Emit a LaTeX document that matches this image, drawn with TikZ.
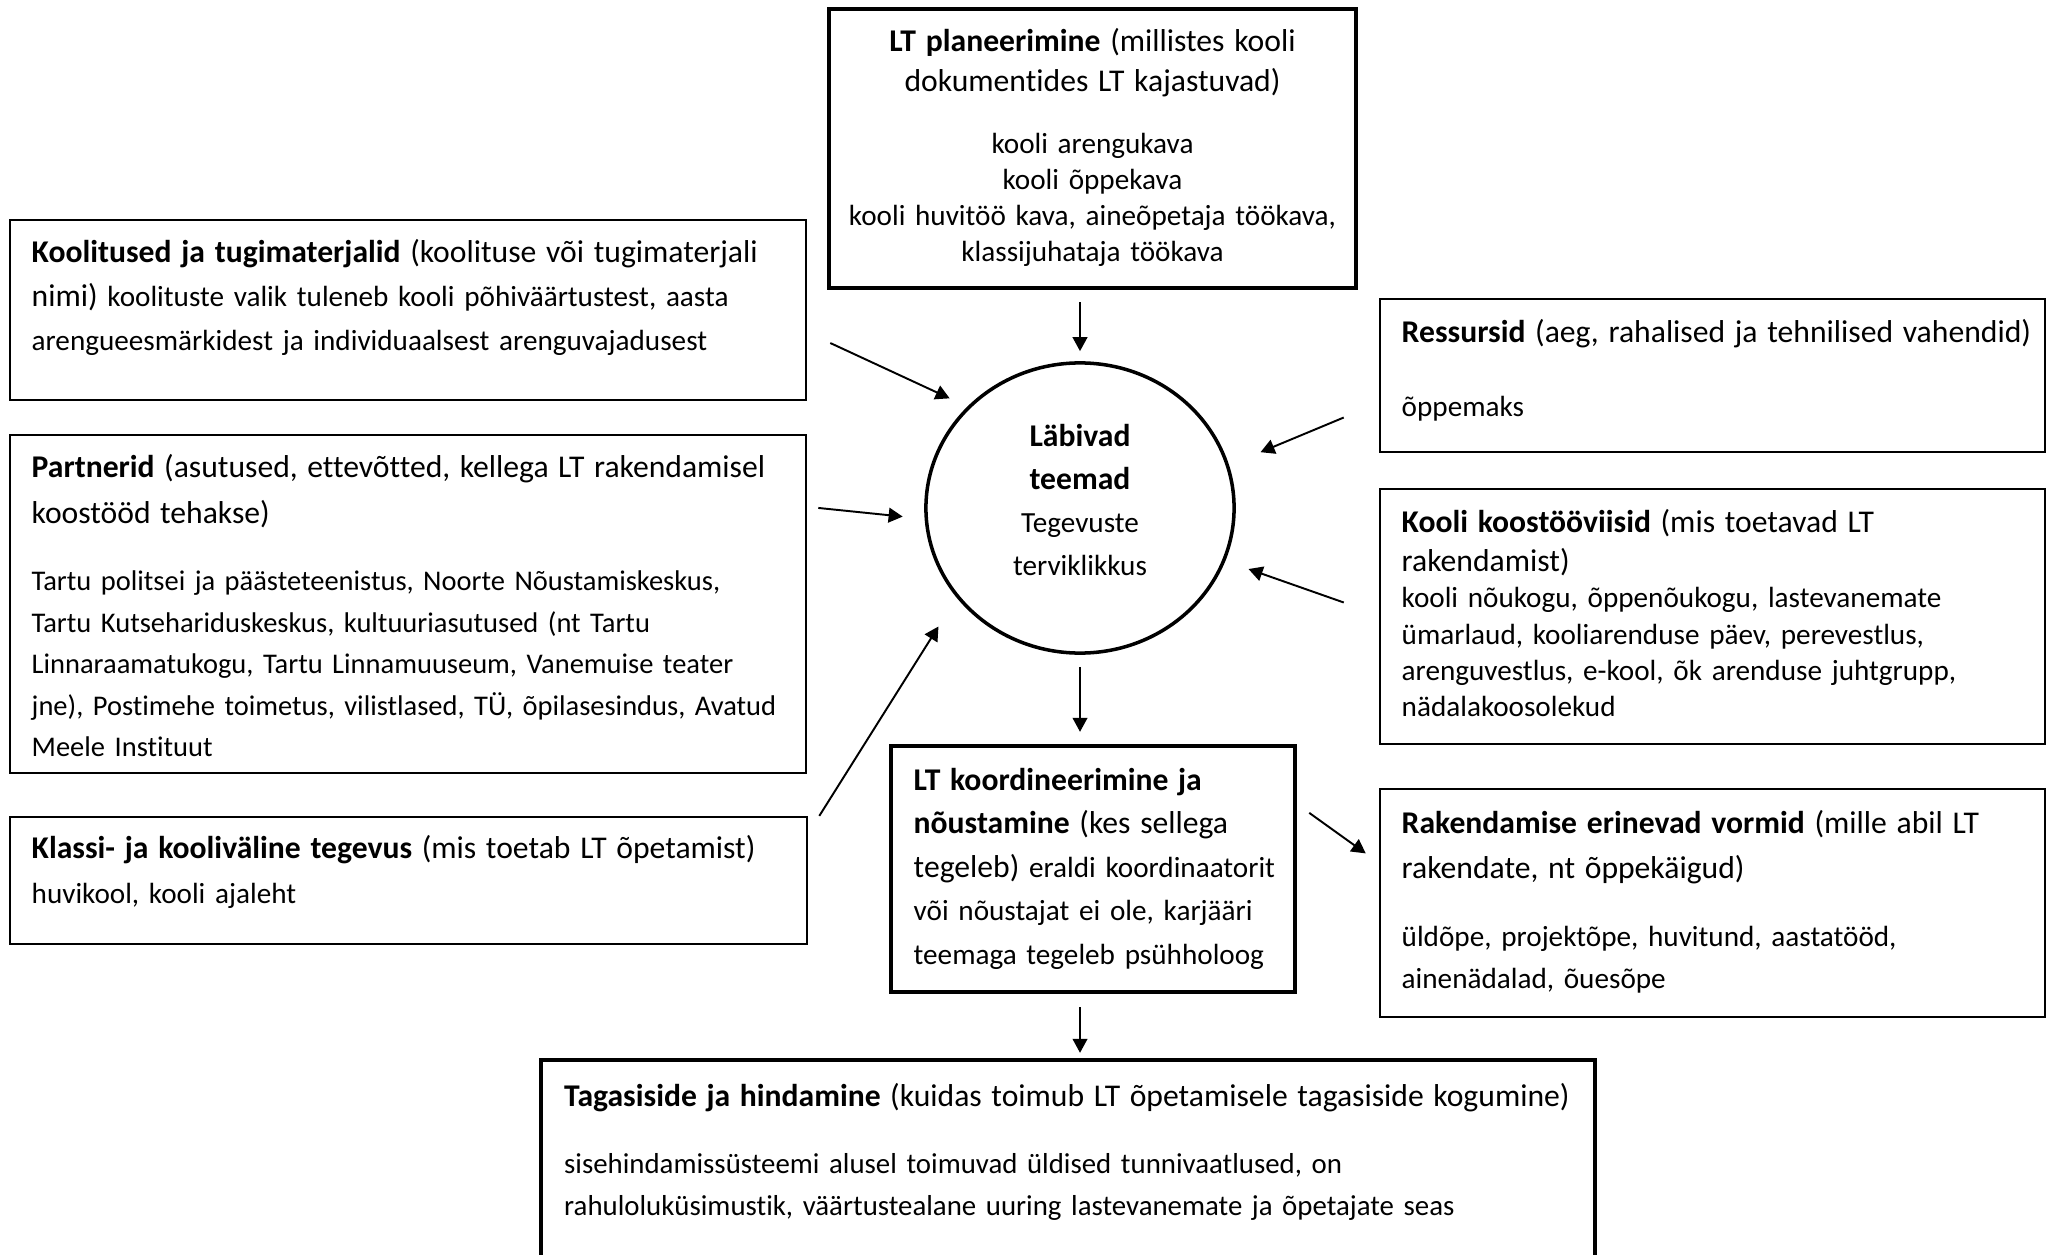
\documentclass[tikz,border=0pt]{standalone}
\usepackage{fontspec}
\setmainfont{Carlito}[Ligatures=NoCommon]
\usetikzlibrary{positioning,shapes.geometric,arrows.meta}
\tikzset{box/.style={draw, line width=0.6pt, inner sep=0pt},
  thickbox/.style={draw, line width=1.2pt, inner sep=0pt},
  arr/.style={-{Triangle[length=4pt,width=4.2pt]}, line width=0.55pt},
  txt/.style={anchor=base west, inner sep=0pt, align=left, text width=#1}}
\newcommand{\hd}[1]{{\fontsize{9pt}{12pt}\selectfont #1}}
\newcommand{\bodysz}[2][8.3pt]{\fontsize{#1}{#2}\selectfont}

\begin{document}
\begin{tikzpicture}[x=0.01cm, y=-0.01cm]
    \useasboundingbox (0,0) rectangle (2055,1255);

    % kastid
    \node[thickbox, minimum width=5.27cm, minimum height=2.79cm] (plan) at (1092.5,148.5) {};
    \node[box, minimum width=7.96cm, minimum height=1.80cm]      (koolitus) at (408,310) {};
    \node[box, minimum width=7.96cm, minimum height=3.38cm]      (partner) at (408,604) {};
    \node[box, minimum width=7.97cm, minimum height=1.27cm]      (klassi) at (408.5,880.5) {};
    \node[box, minimum width=6.65cm, minimum height=1.53cm]      (ressurss) at (1712.5,375.5) {};
    \node[box, minimum width=6.65cm, minimum height=2.55cm]      (koostoo) at (1712.5,616.5) {};
    \node[box, minimum width=6.65cm, minimum height=2.28cm]      (vormid) at (1712.5,903) {};
    \node[thickbox, minimum width=4.04cm, minimum height=2.46cm] (koord) at (1093,869) {};
    \node[thickbox, minimum width=10.54cm, minimum height=2.40cm] (tagasi) at (1068,1180) {};
    \node[ellipse, draw, line width=1pt, minimum width=3.08cm, minimum height=2.90cm, inner sep=0pt,
          align=center, font=\bodysz{12.3pt}] (teemad) at (1080,508)
          {\hd{\textbf{Läbivad}}\\\hd{\textbf{teemad}}\\Tegevuste\\terviklikkus\rule[-0.16cm]{0pt}{0pt}};

    % tekstid
    \node[txt=6cm, anchor=base, align=center, font=\bodysz{10.2pt}] (planT) at (1092.5,52)
          {\hd{\textbf{LT planeerimine} (millistes kooli}\\[0.9pt]\hd{dokumentides LT kajastuvad)}\\[7.6pt]kooli arengukava\\kooli õppekava\\kooli huvitöö kava, aineõpetaja töökava,\\klassijuhataja töökava};
    \node[txt=9cm, font=\bodysz{12.5pt}] (koolitusT) at (31,263)
          {\hd{\textbf{Koolitused ja tugimaterjalid} (koolituse või tugimaterjali}\\\hd{nimi)} koolituste valik tuleneb kooli põhiväärtustest, aasta\\arengueesmärkidest ja individuaalsest arenguvajadusest};
    \node[txt=9cm, font={\bodysz[8.1pt]{11.8pt}}] (partnerT) at (31,478)
          {\hd{\textbf{Partnerid} (asutused, ettevõtted, kellega LT rakendamisel}\\[1pt]\hd{koostööd tehakse)}\\[7.5pt]Tartu politsei ja päästeteenistus, Noorte Nõustamiskeskus,\\Tartu Kutsehariduskeskus, kultuuriasutused (nt Tartu\\Linnaraamatukogu, Tartu Linnamuuseum, Vanemuise teater\\jne), Postimehe toimetus, vilistlased, TÜ, õpilasesindus, Avatud\\Meele Instituut};
    \node[txt=9cm, font=\bodysz{12.8pt}] (klassiT) at (31,858)
          {\hd{\textbf{Klassi- ja kooliväline tegevus} (mis toetab LT õpetamist)}\\huvikool, kooli ajaleht};
    \node[txt=7.5cm, font=\bodysz{11.9pt}] (ressursT) at (1401,343)
          {\hd{\textbf{Ressursid} (aeg, rahalised ja tehnilised vahendid)}\\[9pt]õppemaks};
    \node[txt=7.5cm, font=\bodysz{10.3pt}] (koostooT) at (1401,532)
          {\hd{\textbf{Kooli koostööviisid} (mis toetavad LT}\\[0.8pt]\hd{rakendamist)}\\[0.2pt]kooli nõukogu, õppenõukogu, lastevanemate\\ümarlaud, kooliarenduse päev, perevestlus,\\arenguvestlus, e-kool, õk arenduse juhtgrupp,\\nädalakoosolekud};
    \node[txt=7.5cm, font=\bodysz{11.9pt}] (vormidT) at (1401,833)
          {\hd{\textbf{Rakendamise erinevad vormid} (mille abil LT}\\[0.9pt]\hd{rakendate, nt õppekäigud)}\\[7.7pt]üldõpe, projektõpe, huvitund, aastatööd,\\ainenädalad, õuesõpe};
    \node[txt=4.5cm, font=\bodysz{12.4pt}] (koordT) at (913,790)
          {\hd{\textbf{LT koordineerimine ja}}\\\hd{\textbf{nõustamine} (kes sellega}\\\hd{tegeleb)} eraldi koordinaatorit\\või nõustajat ei ole, karjääri\\teemaga tegeleb psühholoog};
    \node[txt=11cm, font={\bodysz[8.2pt]{11.9pt}}] (tagasiT) at (563.5,1106)
          {\hd{\textbf{Tagasiside ja hindamine} (kuidas toimub LT õpetamisele tagasiside kogumine)}\\[7.4pt]sisehindamissüsteemi alusel toimuvad üldised tunnivaatlused, on\\rahuloluküsimustik, väärtustealane uuring lastevanemate ja õpetajate seas};

    % nooled
    \draw[arr, shorten <=0.12cm, shorten >=0.1cm] (plan.south -| teemad.north) -- (teemad.north);
    \draw[arr, shorten >=0.195cm] ([xshift=0.23cm,yshift=-0.33cm]koolitus.east) -- (teemad.138);
    \draw[arr, shorten >=0.22cm]  ([xshift=0.11cm,yshift=0.96cm]partner.east) -- (teemad.184);
    \draw[arr, shorten >=0.34cm]  ([xshift=0.11cm]klassi.north east) -- (teemad.216);
    \draw[arr, shorten >=0.34cm]  ([xshift=-0.35cm,yshift=-0.42cm]ressurss.west) -- (teemad.16);
    \draw[arr, shorten >=0.245cm] ([xshift=-0.35cm,yshift=0.14cm]koostoo.west) -- (teemad.340);
    \draw[arr, shorten <=0.12cm, shorten >=0.12cm] (teemad.south) -- (teemad.south |- koord.north);
    \draw[arr] ([xshift=0.12cm,yshift=-0.69cm]koord.north east) -- ([xshift=-0.13cm,yshift=-0.655cm]vormid.north west);
    \draw[arr, shorten <=0.13cm, shorten >=0.05cm] (teemad.south |- koord.south) -- (teemad.south |- tagasi.north);
\end{tikzpicture}
\end{document}
